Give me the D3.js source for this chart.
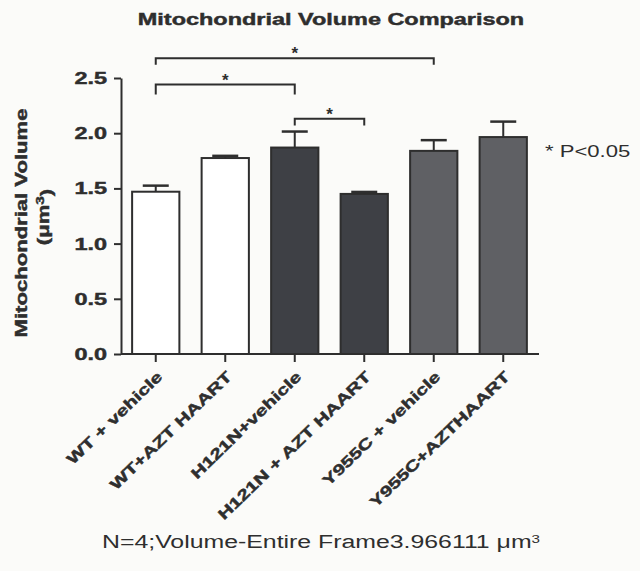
<!DOCTYPE html>
<html>
<head>
<meta charset="utf-8">
<script src="https://cdn.jsdelivr.net/npm/d3@7"></script>
<style>
  body { margin: 0; background: #fbfbf9; }
  svg { display: block; font-family: "Liberation Sans", Arial, sans-serif; }
  .heavy { font-weight: bold; stroke: #2e2e2e; stroke-width: 0.45px; }
</style>
</head>
<body>
<svg width="640" height="571"></svg>
<script>
// data
const groups = ["WT + vehicle", "WT+AZT HAART", "H121N+vehicle", "H121N + AZT HAART", "Y955C + vehicle", "Y955C+AZTHAART"];
const means = [1.47, 1.775, 1.87, 1.45, 1.84, 1.965];
const sems = [0.055, 0.02, 0.145, 0.018, 0.097, 0.14];
const fills = ["#ffffff", "#ffffff", "#3e4045", "#3e4045", "#5f6064", "#5f6064"];
const yTicks = [0.0, 0.5, 1.0, 1.5, 2.0, 2.5];
// significance brackets: [from, to, bar y level, tick end level]
const brackets = [
  [0, 4, 2.68, 2.62],
  [0, 2, 2.44, 2.35],
  [2, 3, 2.13, 2.07]
];

const svg = d3.select("svg");
const ink = "#2e2e2e";
const sx = 1.38; // the figure's type is wide, stretch along the text

const x = d3.scaleBand().domain(groups).range([121, 538]).paddingInner(0.32).paddingOuter(0.16);
const y = d3.scaleLinear().domain([0, 2.5]).range([354, 78]);

// title
svg.append("text").attr("class", "heavy")
  .attr("transform", "translate(331,25) scale(" + sx + ",1)").attr("text-anchor", "middle")
  .style("font-size", "17px").attr("fill", ink)
  .text("Mitochondrial Volume Comparison");

// bars
svg.selectAll(".bar").data(groups).enter().append("rect")
  .attr("x", d => x(d))
  .attr("y", (d, i) => y(means[i]))
  .attr("width", x.bandwidth())
  .attr("height", (d, i) => y(0) - y(means[i]))
  .attr("fill", (d, i) => fills[i])
  .attr("stroke", ink).attr("stroke-width", 2);

// error bars (upper only)
const eb = svg.selectAll(".err").data(groups).enter().append("g");
eb.append("line")
  .attr("x1", d => x(d) + x.bandwidth() / 2).attr("x2", d => x(d) + x.bandwidth() / 2)
  .attr("y1", (d, i) => y(means[i])).attr("y2", (d, i) => y(means[i] + sems[i]))
  .attr("stroke", ink).attr("stroke-width", 2);
eb.append("line")
  .attr("x1", d => x(d) + x.bandwidth() / 2 - 13).attr("x2", d => x(d) + x.bandwidth() / 2 + 13)
  .attr("y1", (d, i) => y(means[i] + sems[i])).attr("y2", (d, i) => y(means[i] + sems[i]))
  .attr("stroke", ink).attr("stroke-width", 2.5);

// axes
const yAxis = svg.append("g").attr("transform", "translate(121,0)")
  .call(d3.axisLeft(y).tickValues(yTicks).tickFormat(d3.format(".1f")).tickSize(7).tickSizeOuter(0));
const xAxis = svg.append("g").attr("transform", "translate(0,354)")
  .call(d3.axisBottom(x).tickSize(8).tickSizeOuter(0).tickFormat(""));
[yAxis, xAxis].forEach(a => {
  a.select(".domain").attr("stroke", ink).attr("stroke-width", 2);
  a.selectAll(".tick line").attr("stroke", ink).attr("stroke-width", 2);
});
xAxis.select(".domain").attr("d", "M121,0H539");
yAxis.selectAll(".tick text").attr("x", 0).attr("class", "heavy")
  .attr("transform", "translate(-14,0) scale(" + sx + ",1)").attr("fill", ink)
  .style("font-size", "17px");

// x labels rotated
svg.selectAll(".xl").data(groups).enter().append("text")
  .attr("class", "heavy")
  .attr("transform", d => "translate(" + (x(d) + x.bandwidth() / 2 + 4) + ",374) rotate(-44) scale(" + sx + ",1)")
  .attr("text-anchor", "end")
  .attr("dy", "0.35em")
  .attr("fill", ink)
  .style("font-size", "15px")
  .text(d => d);

// y label
svg.append("text").attr("class", "heavy")
  .attr("transform", "translate(27,223) rotate(-90) scale(" + sx + ",1)")
  .attr("text-anchor", "middle").attr("fill", ink)
  .style("font-size", "16px")
  .text("Mitochondrial Volume");
const yl2 = svg.append("text").attr("class", "heavy")
  .attr("transform", "translate(49,217) rotate(-90) scale(" + sx + ",1)")
  .attr("text-anchor", "middle").attr("fill", ink)
  .style("font-size", "16px");
yl2.append("tspan").text("(\u03bcm");
yl2.append("tspan").attr("dy", "-0.5em").style("font-size", "11px").text("3");
yl2.append("tspan").attr("dy", "0.5em").text(")");

// brackets
brackets.forEach(b => {
  const x1 = x(groups[b[0]]) + x.bandwidth() / 2;
  const x2 = x(groups[b[1]]) + x.bandwidth() / 2;
  svg.append("path")
    .attr("d", "M" + x1 + "," + y(b[3]) + "V" + y(b[2]) + "H" + x2 + "V" + y(b[3]))
    .attr("fill", "none").attr("stroke", ink).attr("stroke-width", 2);
  svg.append("text").attr("x", (x1 + x2) / 2).attr("y", y(b[2]) + 1)
    .attr("text-anchor", "middle").attr("fill", ink)
    .style("font-size", "17px").style("font-weight", "bold").text("*");
});

// p value note
svg.append("text").attr("transform", "translate(545,157) scale(" + sx + ",1)").attr("fill", ink)
  .style("font-size", "16px").text("* P<0.05");

// footer
const ft = svg.append("text").attr("transform", "translate(321,548) scale(" + sx + ",1)").attr("text-anchor", "middle")
  .attr("fill", ink).style("font-size", "18px");
ft.append("tspan").text("N=4;Volume-Entire Frame3.966111 \u03bcm");
ft.append("tspan").attr("dy", "-0.5em").style("font-size", "11px").text("3");
</script>
</body>
</html>
